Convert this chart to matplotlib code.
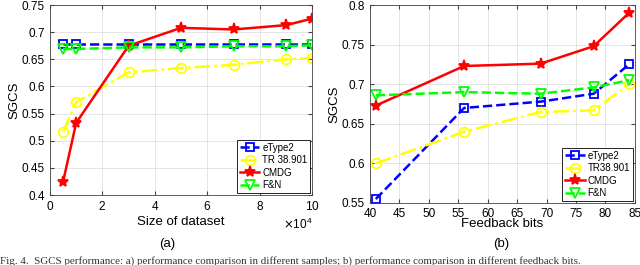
import matplotlib.pyplot as plt
from matplotlib.ticker import ScalarFormatter
import numpy as np

# (a) SGCS vs size of dataset
dataset_size = [5000, 10000, 30000, 50000, 70000, 90000, 100000]
etype2_a = [0.679, 0.679, 0.679, 0.679, 0.679, 0.679, 0.679]
tr_a = [0.516, 0.571, 0.626, 0.634, 0.640, 0.650, 0.653]
cmdg_a = [0.424, 0.533, 0.675, 0.708, 0.705, 0.713, 0.725]
fn_a = [0.669, 0.669, 0.672, 0.672, 0.674, 0.674, 0.676]

# (b) SGCS vs feedback bits
feedback_bits = [41, 56, 69, 78, 84]
etype2_b = [0.555, 0.670, 0.678, 0.688, 0.725]
tr_b = [0.600, 0.640, 0.665, 0.667, 0.700]
cmdg_b = [0.673, 0.723, 0.726, 0.748, 0.790]
fn_b = [0.686, 0.690, 0.688, 0.696, 0.705]

plt.rcParams['font.family'] = ['Liberation Sans', 'DejaVu Sans']

fig = plt.figure(figsize=(6.4, 2.65), dpi=100)
ax_a = fig.add_axes([0.078, 0.264, 0.410, 0.717])
ax_b = fig.add_axes([0.578, 0.234, 0.414, 0.747])


def draw(ax, x, e, t, c, f, tr_name):
    lw = 1.8
    ax.plot(x, e, color='#0000ff', ls='--', lw=lw, marker='s', ms=6,
            mfc='none', mew=1.3, label='eType2')
    ax.plot(x, t, color='#ffff00', ls='-.', lw=lw, marker='o', ms=7,
            mfc='none', mew=1.3, label=tr_name)
    ax.plot(x, c, color='#ff0000', ls='-', lw=lw, marker='*', ms=8,
            mew=1.3, label='CMDG')
    ax.plot(x, f, color='#00ff00', ls='--', lw=lw, marker='v', ms=7,
            mfc='none', mew=1.3, label='F&N')
    ax.grid(True, color='#e0e0e0', lw=0.6)
    ax.set_axisbelow(True)
    ax.tick_params(direction='in', labelsize=8.5, length=3, top=True, right=True,
                   color='#444444')
    for s in ax.spines.values():
        s.set_linewidth(0.6)
        s.set_color('#444444')
    ax.set_ylabel('SGCS', fontsize=9.5, labelpad=1)
    leg = ax.legend(loc='lower right', fontsize=7, fancybox=False,
                    edgecolor='black', framealpha=1, handlelength=2.0,
                    handletextpad=0.3, borderpad=0.3, labelspacing=0.25,
                    borderaxespad=0.2)
    leg.get_frame().set_linewidth(0.6)


draw(ax_a, dataset_size, etype2_a, tr_a, cmdg_a, fn_a, 'TR 38.901')
ax_a.set_xlim(0, 100000)
ax_a.set_xticks(range(0, 100001, 20000))
ax_a.set_ylim(0.4, 0.75)
ax_a.set_yticks(np.arange(0.4, 0.751, 0.05))
ax_a.set_yticklabels(['0.4', '0.45', '0.5', '0.55', '0.6', '0.65', '0.7', '0.75'])
fmt = ScalarFormatter(useMathText=True)
fmt.set_powerlimits((4, 4))
ax_a.xaxis.set_major_formatter(fmt)
ax_a.xaxis.get_offset_text().set_fontsize(8.5)
ax_a.set_xlabel('Size of dataset', fontsize=9.5, labelpad=2)

draw(ax_b, feedback_bits, etype2_b, tr_b, cmdg_b, fn_b, 'TR38.901')
ax_b.set_xlim(40, 85)
ax_b.set_ylim(0.55, 0.8)
ax_b.set_xticks(range(40, 86, 5))
ax_b.set_yticks(np.arange(0.55, 0.801, 0.05))
ax_b.set_yticklabels(['0.55', '0.6', '0.65', '0.7', '0.75', '0.8'])
ax_b.set_xlabel('Feedback bits', fontsize=9.5, labelpad=-1)

fig.text(0.262, 0.067, '(a)', fontsize=9.5, ha='center')
fig.text(0.783, 0.067, '(b)', fontsize=9.5, ha='center')
fig.text(0.0, 0.004, 'Fig. 4.  SGCS performance: a) performance comparison in different samples; '
         'b) performance comparison in different feedback bits.',
         fontsize=7.9, family=['Liberation Serif', 'DejaVu Serif'], color='#333333')

fig.savefig('out.png', dpi=100)
